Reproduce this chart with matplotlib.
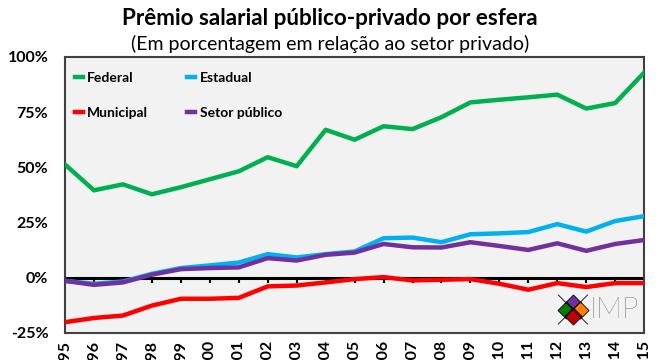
import numpy as np
import matplotlib.pyplot as plt

years = list(range(1995, 2016))
federal = [51.3, 39.6, 42.3, 37.8, 41.0, 44.6, 48.2, 54.6, 50.5, 67.0, 62.5,
           68.6, 67.3, 72.7, 79.4, 80.6, 81.7, 82.9, 76.6, 79.1, 92.9]
estadual = [-1.4, -2.7, -1.7, 1.8, 4.4, 5.6, 6.9, 10.7, 9.2, 10.7, 11.9,
            17.9, 18.2, 16.1, 19.7, 20.1, 20.7, 24.3, 20.9, 25.7, 27.9]
municipal = [-20.1, -18.2, -17.1, -12.6, -9.5, -9.5, -9.1, -3.9, -3.5, -2.1, -0.6,
             0.3, -1.2, -0.9, -0.6, -2.7, -5.4, -2.4, -4.2, -2.4, -2.4]
setor = [-1.4, -3.2, -2.1, 1.4, 3.9, 4.4, 4.7, 8.9, 7.8, 10.4, 11.4,
         15.3, 13.8, 13.7, 16.1, 14.4, 12.6, 15.6, 12.2, 15.3, 17.1]
yticks = [-25, 0, 25, 50, 75, 100]

plt.rcParams['font.family'] = ['Lato', 'DejaVu Sans']

fig = plt.figure(figsize=(6.6, 3.6), dpi=100)
ax = fig.add_axes([0.0985, 0.075, 0.8775, 0.767])
ax.set_facecolor('#F2F2F2')

l1, = ax.plot(years, federal, color='#00B050', lw=3.2, label='Federal', zorder=3)
l2, = ax.plot(years, estadual, color='#00B0F0', lw=3.2, label='Estadual', zorder=3)
l3, = ax.plot(years, municipal, color='#FF0000', lw=3.2, label='Municipal', zorder=3)
l4, = ax.plot(years, setor, color='#7030A0', lw=3.2, label='Setor público', zorder=4)

# zero line with its tick marks
ax.axhline(0, color='black', lw=2.2, zorder=2)
ax.vlines(years, -2.4, 0, color='black', lw=1.5, zorder=2)

ax.set_xlim(1995, 2015)
ax.set_ylim(-25, 100)
ax.set_yticks(yticks)
ax.set_yticklabels([f'{v}%' for v in yticks], fontsize=11.5, fontweight='bold')
ax.set_xticks(years)
ax.set_xticklabels([str(y) for y in years], rotation=90, fontsize=11.5,
                   fontweight='bold', va='top')
ax.tick_params(axis='x', length=0, pad=5)
ax.tick_params(axis='y', length=0, pad=12)
for s in ax.spines.values():
    s.set_color('#404040')
    s.set_linewidth(1.5)

ax.legend([l1, l3, l2, l4], ['Federal', 'Municipal', 'Estadual', 'Setor público'],
          loc='upper left', ncol=2, frameon=False,
          prop={'weight': 'bold', 'size': 10}, handlelength=0.6,
          handletextpad=0.3, columnspacing=2.8, labelspacing=1.65,
          bbox_to_anchor=(-0.005, 0.99))

fig.text(0.5, 0.948, 'Prêmio salarial público-privado por esfera',
         ha='center', va='center', fontsize=16.2, fontweight='bold')
fig.text(0.5, 0.878, '(Em porcentagem em relação ao setor privado)',
         ha='center', va='center', fontsize=14)

# IMP logo
cx, cy = 0.877, 0.085
dx, dy = 0.0115, 0.024
ax.plot([cx - 2.2 * dx, cx + 2.2 * dx], [cy - 2.2 * dy, cy + 2.2 * dy],
        color='black', lw=0.6, transform=ax.transAxes, zorder=6)
ax.plot([cx - 2.2 * dx, cx + 2.2 * dx], [cy + 2.2 * dy, cy - 2.2 * dy],
        color='black', lw=0.6, transform=ax.transAxes, zorder=6)
cols = ['#7030A0', '#FF8000', '#008000', '#C00000']
offs = [(0, 1), (1, 0), (-1, 0), (0, -1)]
for c, (ox, oy) in zip(cols, offs):
    ax.scatter([cx + ox * dx], [cy + oy * dy], s=75, marker='D', color=c,
               edgecolors='black', linewidths=0.6, transform=ax.transAxes,
               zorder=5, clip_on=False)
ax.text(0.906, 0.085, 'IMP', transform=ax.transAxes, fontsize=21,
        fontweight='light', color='#222222', va='center', ha='left')

fig.savefig('out.png', dpi=100, facecolor='white')
